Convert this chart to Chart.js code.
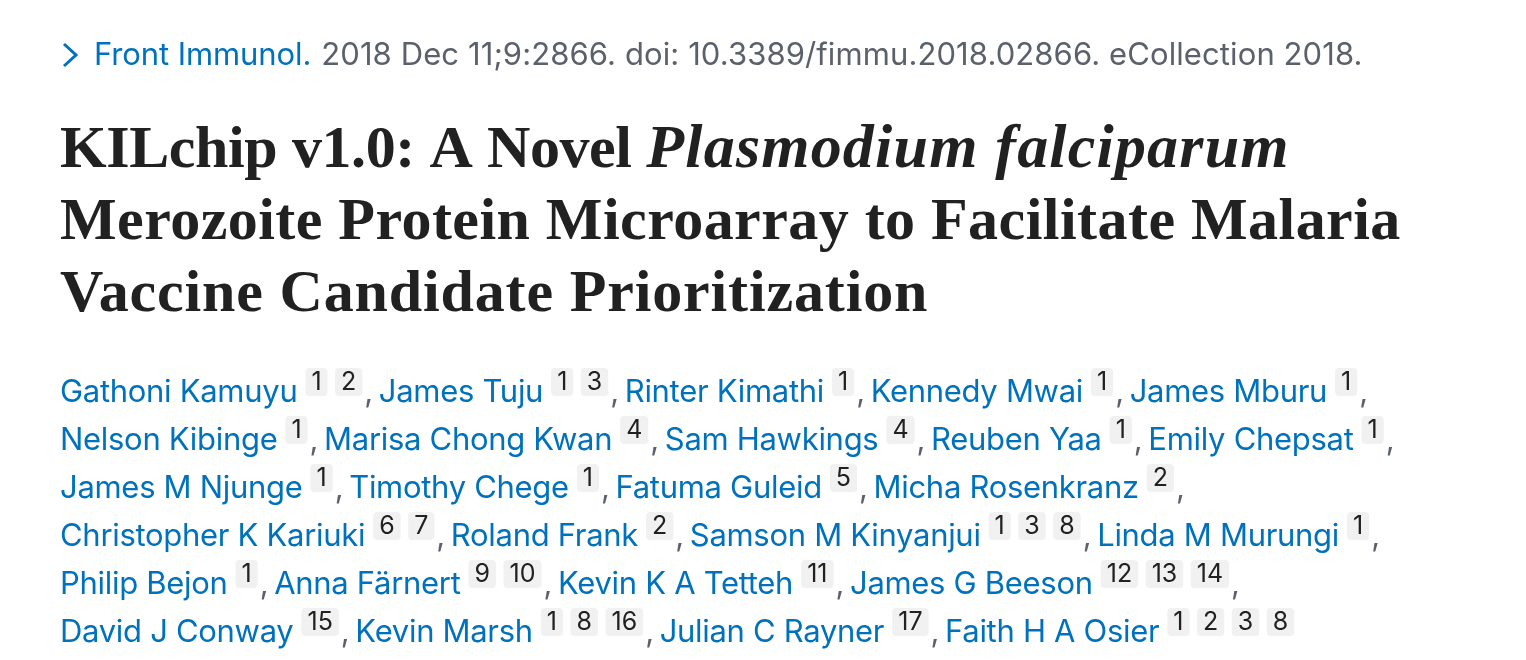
<!DOCTYPE html>
<html>
<head>
<meta charset="utf-8">
<title>KILchip v1.0</title>
<script src="https://cdn.jsdelivr.net/npm/chart.js@4"></script>
<style>
  html, body { margin: 0; padding: 0; background: #fff; overflow: hidden; }
  #page { display: block; }
</style>
</head>
<body>
<canvas id="page" width="1526" height="660"></canvas>
<script>
const journalName = "Front Immunol.";
const journalRest = "2018 Dec 11;9:2866. doi: 10.3389/fimmu.2018.02866. eCollection 2018.";

// title lines, each piece is [text, italic, letter spacing]
const titleLine1 = [["KILchip v1.0: A Novel ", false, -0.4], ["Plasmodium falciparum", true, 1.2]];
const titleLine2 = [["Merozoite Protein Microarray to Facilitate Malaria", false, 0.46]];
const titleLine3 = [["Vaccine Candidate Prioritization", false, 0.85]];

const authorLines = [
  ["Gathoni Kamuyu", "James Tuju", "Rinter Kimathi", "Kennedy Mwai", "James Mburu"],
  ["Nelson Kibinge", "Marisa Chong Kwan", "Sam Hawkings", "Reuben Yaa", "Emily Chepsat"],
  ["James M Njunge", "Timothy Chege", "Fatuma Guleid", "Micha Rosenkranz"],
  ["Christopher K Kariuki", "Roland Frank", "Samson M Kinyanjui", "Linda M Murungi"],
  ["Philip Bejon", "Anna Färnert", "Kevin K A Tetteh", "James G Beeson"],
  ["David J Conway", "Kevin Marsh", "Julian C Rayner", "Faith H A Osier"],
];
const authorAffiliations = [
  [["1", "2"], ["1", "3"], ["1"], ["1"], ["1"]],
  [["1"], ["4"], ["4"], ["1"], ["1"]],
  [["1"], ["1"], ["5"], ["2"]],
  [["6", "7"], ["2"], ["1", "3", "8"], ["1"]],
  [["1"], ["9", "10"], ["11"], ["12", "13", "14"]],
  [["15"], ["1", "8", "16"], ["17"], ["1", "2", "3", "8"]],
];

const BLUE = "#0071bc";
const GREY = "#5b616b";
const INK = "#212121";
const CHIP = "#f1f1f1";
const BODY_FONT = "31px 'Inter', sans-serif";
const CHIP_FONT = "25px 'Inter', sans-serif";
const TITLE_FONT = "bold 60px 'Liberation Serif', serif";
const TITLE_ITALIC = "italic bold 62px 'Liberation Serif', serif";

function drawHeader(ctx) {
  // chevron
  ctx.strokeStyle = BLUE;
  ctx.lineWidth = 3;
  ctx.beginPath();
  ctx.moveTo(64, 44);
  ctx.lineTo(76, 55);
  ctx.lineTo(64, 66);
  ctx.stroke();

  ctx.font = BODY_FONT;
  ctx.letterSpacing = "-0.1px";
  ctx.fillStyle = BLUE;
  ctx.fillText(journalName, 94, 65);
  const w = ctx.measureText(journalName).width;
  ctx.letterSpacing = "0.1px";
  ctx.fillStyle = GREY;
  ctx.fillText(journalRest, 94 + w + 10, 65);
}

function drawTitle(ctx) {
  ctx.fillStyle = INK;
  [titleLine1, titleLine2, titleLine3].forEach((line, i) => {
    let x = 60;
    line.forEach(([text, italic, spacing]) => {
      ctx.font = italic ? TITLE_ITALIC : TITLE_FONT;
      ctx.letterSpacing = spacing + "px";
      ctx.fillText(text, x, 167 + i * 72);
      x += ctx.measureText(text).width;
    });
  });
}

function drawAuthors(ctx) {
  authorLines.forEach((names, row) => {
    const baseline = 402 + row * 48;
    let x = 60;
    names.forEach((name, n) => {
      ctx.font = BODY_FONT;
      ctx.letterSpacing = "-0.3px";
      ctx.fillStyle = BLUE;
      ctx.fillText(name, x, baseline);
      x += ctx.measureText(name).width + 8;

      authorAffiliations[row][n].forEach((num, k) => {
        ctx.font = CHIP_FONT;
        ctx.letterSpacing = "0px";
        const w = ctx.measureText(num).width + 12;
        ctx.fillStyle = CHIP;
        ctx.beginPath();
        ctx.roundRect(x, baseline - 34, w, 28, 4);
        ctx.fill();
        ctx.fillStyle = INK;
        ctx.fillText(num, x + 6, baseline - 12);
        x += w + (k < authorAffiliations[row][n].length - 1 ? 7.5 : 0);
      });

      if (n < names.length - 1 || row < authorLines.length - 1) {
        ctx.font = BODY_FONT;
        ctx.fillStyle = GREY;
        ctx.fillText(",", x + 2, baseline);
      }
      x += 16.5;
    });
  });
}

const citationPage = {
  id: "citationPage",
  afterDraw(chart) {
    const ctx = chart.ctx;
    ctx.save();
    ctx.textBaseline = "alphabetic";
    ctx.textAlign = "left";
    drawHeader(ctx);
    drawTitle(ctx);
    drawAuthors(ctx);
    ctx.restore();
  },
};

new Chart(document.getElementById("page"), {
  type: "scatter",
  data: { datasets: [] },
  options: {
    responsive: false,
    animation: false,
    plugins: { legend: { display: false }, tooltip: { enabled: false } },
    scales: { x: { display: false }, y: { display: false } },
  },
  plugins: [citationPage],
});
</script>
</body>
</html>
